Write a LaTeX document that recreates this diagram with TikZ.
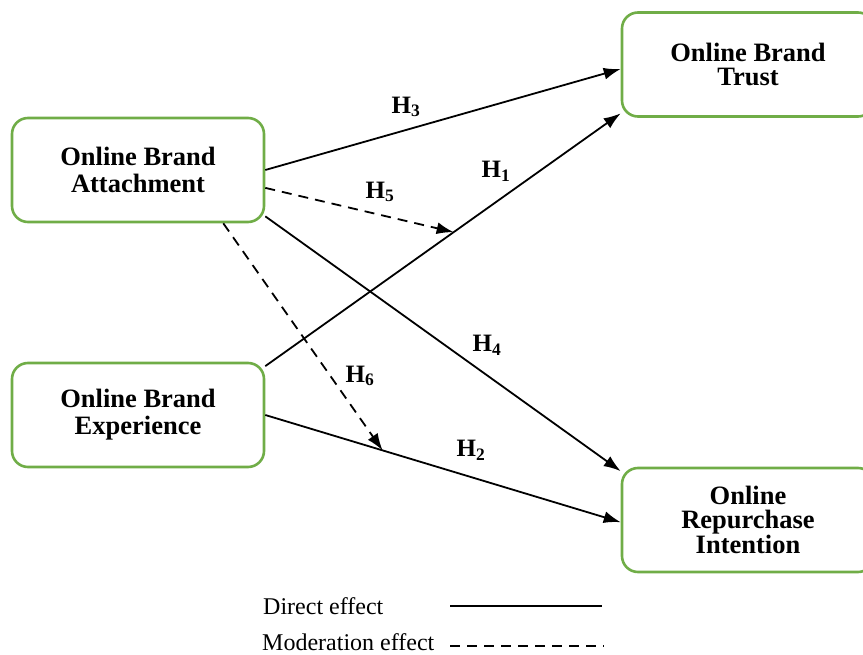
\documentclass[tikz,border=0pt]{standalone}
\usepackage{fontspec}
\setmainfont{Liberation Serif}
\usetikzlibrary{arrows.meta}
\definecolor{boxgreen}{RGB}{112,173,71}

\begin{document}
\begin{tikzpicture}[x=1pt,y=-1pt,
        construct/.style={draw=boxgreen, line width=2.6pt, rounded corners=16pt,
            minimum width=252pt, minimum height=104pt, inner sep=0pt, align=center,
            font=\fontsize{26.5}{27}\selectfont\bfseries},
        tight/.style={font=\fontsize{26.5}{24}\selectfont\bfseries},
        direct/.style={black, line width=1.8pt, >={Latex[length=17pt,width=12pt]}, ->},
        moderate/.style={direct, dash pattern=on 10pt off 7pt},
        hyp/.style={font=\fontsize{25}{25}\selectfont\bfseries, inner sep=1pt},
        legend/.style={font=\fontsize{24}{24}\selectfont, inner sep=0pt}]
    \useasboundingbox (0,0) rectangle (863,655);

    \node[construct] (att) at (138,170) {Online Brand\\Attachment};
    \node[construct] (exp) at (138,415) {Online Brand\\Experience};
    \node[construct, tight] (trust) at (748,64.5) {Online Brand\\Trust};
    \node[construct, tight] (rep) at (748,520) {Online\\Repurchase\\Intention};

    \draw[direct] (att.east) -- (trust.182);
    \draw[direct] (exp.21) -- coordinate[pos=0.53] (m1) (trust.201);
    \draw[direct] (att.-20) -- (rep.159);
    \draw[direct] (exp.east) -- coordinate[pos=0.33] (m2) (rep.181);
    \draw[moderate] (att.-8) -- (m1);
    \draw[moderate] (att.-32) -- (m2);

    \node[hyp] (h3) at (406,107) {H\textsubscript{3}};
    \node[hyp] (h1) at (496,171) {H\textsubscript{1}};
    \node[hyp] (h5) at (380,192) {H\textsubscript{5}};
    \node[hyp] (h4) at (487,345) {H\textsubscript{4}};
    \node[hyp] (h6) at (360,376) {H\textsubscript{6}};
    \node[hyp] (h2) at (471,450) {H\textsubscript{2}};

    \node[legend, anchor=west] (ldir) at (263,606) {Direct effect};
    \node[legend, anchor=west] (lmod) at (262,642) {Moderation effect};
    \coordinate (d1) at (450,606);
    \coordinate (d2) at (602,606);
    \coordinate (e1) at (450,646);
    \coordinate (e2) at (604,646);
    \draw[black, line width=1.8pt] (d1) -- (d2);
    \draw[black, line width=1.8pt, dash pattern=on 10pt off 7pt] (e1) -- (e2);
\end{tikzpicture}
\end{document}
